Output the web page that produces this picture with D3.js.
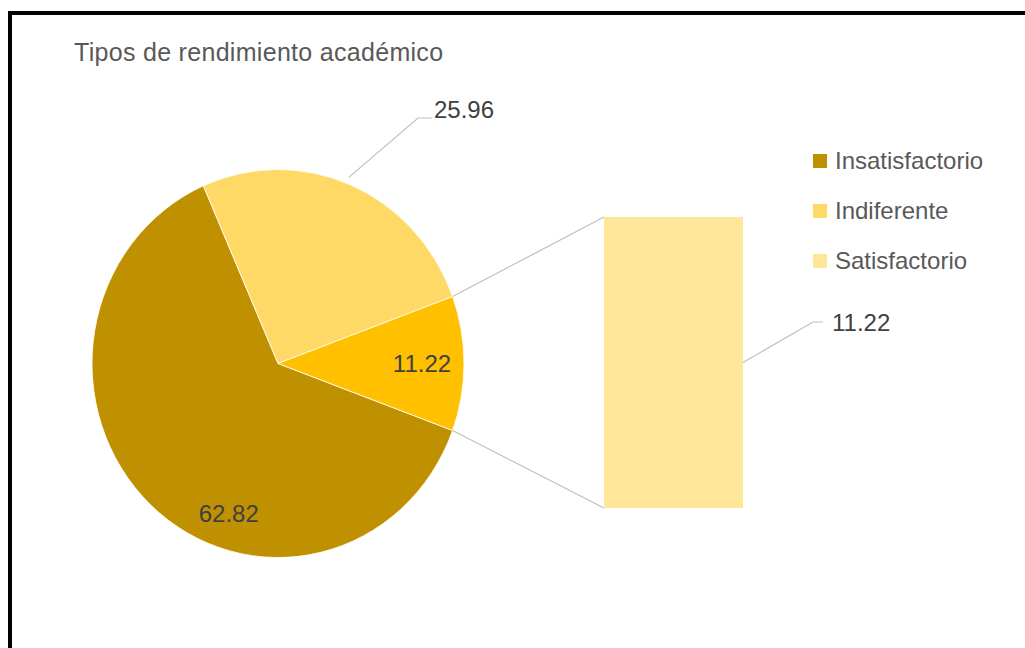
<!DOCTYPE html>
<html>
<head>
<meta charset="utf-8">
<script src="https://cdn.jsdelivr.net/npm/d3@7"></script>
<style>
  body { margin: 0; background: #fff; }
  text { font-family: "Liberation Sans", Arial, sans-serif; }
</style>
</head>
<body>
<script>
// data
var categories = ["Insatisfactorio", "Indiferente", "Satisfactorio"];
var values = [62.82, 25.96, 11.22];
var colors = ["#BF9000", "#FFD966", "#FFE699"];
var otherColor = "#FFC000";
var title = "Tipos de rendimiento académico";

var width = 1025, height = 648;

var svg = d3.select("body")
    .append("svg")
    .attr("width", width)
    .attr("height", height);

// frame (only top and left edges are visible)
svg.append("rect")
    .attr("x", 10).attr("y", 13)
    .attr("width", width + 20).attr("height", height + 20)
    .attr("fill", "none")
    .attr("stroke", "#000")
    .attr("stroke-width", 4);

// title
svg.append("text")
    .attr("x", 74)
    .attr("y", 61)
    .style("font-size", "25px")
    .style("letter-spacing", "0.3px")
    .attr("fill", "#595959")
    .text(title);

// pie: first two categories, the last goes to the "other" slice
// the original picture is a little stretched vertically
var cx = 278, cy = 363.5, r = 186, sy = 1.043;
var pieValues = [values[0], values[1], values[2]];
var total = d3.sum(pieValues);
var start = Math.PI / 2 + Math.PI * values[2] / total;

var pie = d3.pie().sort(null).value(function(d) { return d; })
    .startAngle(start).endAngle(start + 2 * Math.PI);
var arcs = pie(pieValues);

var arc = d3.arc().innerRadius(0).outerRadius(r);

var g = svg.append("g").attr("transform", "translate(" + cx + "," + cy + ") scale(1," + sy + ")");

g.selectAll("path")
    .data(arcs)
    .enter()
    .append("path")
    .attr("d", arc)
    .attr("fill", function(d, i) { return i == 2 ? otherColor : colors[i]; })
    .attr("stroke", "#fff")
    .attr("stroke-width", 0.8)
    .attr("vector-effect", "non-scaling-stroke");

function polar(a, rad) {
    return [rad * Math.sin(a), -rad * Math.cos(a) * sy];
}

// bar for the split-off category
var barX = 604, barW = 139;
var y = d3.scaleLinear().domain([0, values[2]]).range([508, 217]);

// connector lines
var other = arcs[2];
var pTop = polar(other.startAngle, r), pBot = polar(other.endAngle, r);
svg.append("line")
    .attr("x1", cx + pTop[0]).attr("y1", cy + pTop[1])
    .attr("x2", barX).attr("y2", y(values[2]))
    .attr("stroke", "#BFBFBF").attr("stroke-width", 1.2);
svg.append("line")
    .attr("x1", cx + pBot[0]).attr("y1", cy + pBot[1])
    .attr("x2", barX).attr("y2", y(0))
    .attr("stroke", "#BFBFBF").attr("stroke-width", 1.2);

svg.append("rect")
    .attr("x", barX)
    .attr("y", y(values[2]))
    .attr("width", barW)
    .attr("height", y(0) - y(values[2]))
    .attr("fill", colors[2]);

var labelColor = "#404040";

// label inside dark slice
var a0 = arcs[0].startAngle + 0.392 * (arcs[0].endAngle - arcs[0].startAngle);
var p0 = polar(a0, r * 0.82);
svg.append("text")
    .attr("x", cx + p0[0]).attr("y", cy + p0[1] + 8)
    .attr("text-anchor", "middle")
    .style("font-size", "24px")
    .attr("fill", labelColor)
    .text(values[0].toFixed(2));

// label inside other slice
var a2 = (other.startAngle + other.endAngle) / 2;
var p2 = polar(a2, r * 0.774);
svg.append("text")
    .attr("x", cx + p2[0]).attr("y", cy + p2[1] + 8)
    .attr("text-anchor", "middle")
    .style("font-size", "24px")
    .attr("fill", labelColor)
    .text(values[2].toFixed(2));

// outside label for light slice with leader line
var a1 = (arcs[1].startAngle + arcs[1].endAngle) / 2 - 0.025;
var p1 = polar(a1, r + 6);
svg.append("polyline")
    .attr("points", [[cx + p1[0], cy + p1[1]], [418, 118], [432, 118]].join(" "))
    .attr("fill", "none")
    .attr("stroke", "#BFBFBF").attr("stroke-width", 1.2);
svg.append("text")
    .attr("x", 434).attr("y", 118)
    .style("font-size", "24px")
    .attr("fill", labelColor)
    .text(values[1].toFixed(2));

// bar label
var barMid = y(values[2] / 2);
svg.append("polyline")
    .attr("points", [[barX + barW, barMid], [813, 322], [823, 322]].join(" "))
    .attr("fill", "none")
    .attr("stroke", "#BFBFBF").attr("stroke-width", 1.2);
svg.append("text")
    .attr("x", 832).attr("y", 331)
    .style("font-size", "24px")
    .attr("fill", labelColor)
    .text(values[2].toFixed(2));

// legend
var legend = svg.append("g")
    .selectAll("g")
    .data(categories)
    .enter()
    .append("g")
    .attr("transform", function(d, i) { return "translate(813," + (161 + i * 50) + ")"; });

legend.append("rect")
    .attr("x", 0).attr("y", -7)
    .attr("width", 14).attr("height", 14)
    .attr("fill", function(d, i) { return colors[i]; });

legend.append("text")
    .attr("x", 22).attr("y", 8)
    .style("font-size", "24px")
    .attr("fill", "#595959")
    .text(function(d) { return d; });
</script>
</body>
</html>
